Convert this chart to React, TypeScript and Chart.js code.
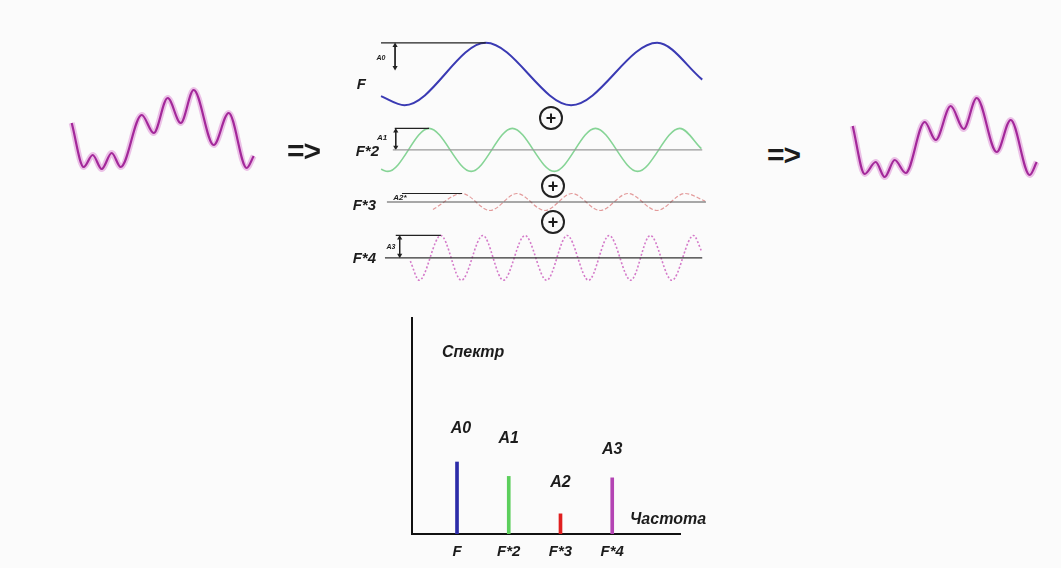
import { useEffect, useRef } from "react";
import { Chart, registerables } from "chart.js";

Chart.register(...registerables);

const FONT = '"Liberation Sans", Arial, Helvetica, sans-serif';

// ---------------- data ----------------
// Composite signal on the left: position along the trace and level above its lowest point
const inputWaveT = [0, 12, 21, 30, 40, 49, 70, 82, 96, 109, 122, 142, 157, 175, 182];
const inputWaveV = [47, 3, 15, 1, 17, 3, 55, 37, 72, 47, 80, 25, 57, 2, 14];
// Reconstructed signal on the right
const outputWaveT = [0, 12, 23, 32, 42, 53, 72, 83, 98, 111, 124, 144, 158, 177, 184];
const outputWaveV = [51, 3, 15, 0, 17, 4, 55, 37, 71, 48, 79, 25, 57, 2, 15];

// Harmonics: time in periods of the fundamental F, amplitude in units of A0
const harmonicNames = ["F", "F*2", "F*3", "F*4"];
const harmonicAmp = [1, 0.72, 0.25, 0.75];
const h1T = [0, 0.137, 0.611, 1.109, 1.611, 1.874];
const h1V = [-0.71, -1, 1, -1, 1, -0.18];
const h2T = [0, 0.04, 0.28, 0.526, 0.766, 1.011, 1.251, 1.497, 1.743, 1.869];
const h2V = [-0.65, -0.72, 0.72, -0.72, 0.72, -0.72, 0.72, -0.72, 0.72, 0.04];
const h3T = [0.314, 0.48, 0.64, 0.794, 0.954, 1.109, 1.269, 1.429, 1.594, 1.754, 1.869];
const h3V = [-0.22, 0.25, -0.25, 0.25, -0.25, 0.25, -0.25, 0.25, -0.25, 0.25, 0.03];
const h4T = [0.171, 0.223, 0.349, 0.469, 0.594, 0.714, 0.84, 0.966, 1.086, 1.211, 1.331, 1.457, 1.571, 1.697, 1.823, 1.869];
const h4V = [-0.11, -0.75, 0.75, -0.75, 0.75, -0.75, 0.75, -0.75, 0.75, -0.75, 0.75, -0.75, 0.75, -0.75, 0.75, 0.24];
const refLineStart = [0, 0.08, 0.137, 0.086];
const refLineEnd = [0.611, 0.28, 0.48, 0.349];
const baselineStart = [null, 0.069, 0.051, 0.023];
const baselineEnd = 1.874;
const arrowT = [0.082, 0.086, null, 0.109];
const arrowBottom = [0.12, 0, null, 0];
const ampLabels = ["A0", "A1", "A2*", "A3"];

// Spectrum
const spectrumLabels = ["F", "F*2", "F*3", "F*4"];
const spectrumFreq = [1, 2, 3, 4];
const spectrumAmp = [1.0, 0.8, 0.28, 0.78];
const peakNames = ["A0", "A1", "A2", "A3"];
const peakNameLevel = [1.47, 1.33, 0.72, 1.17];
const spectrumColors = ["#2c2ca8", "#5ccf5c", "#e01f1f", "#b444b4"];

// ---------------- layout (pixels) ----------------
const PANEL_LEFT = 330;
const PANEL_WIDTH = 390;
const T0_PX = 378;
const PX_PER_PERIOD = 175;
const PX_PER_AMP = 34;
const ARROW_HEAD = 3 / PX_PER_AMP;
const waveRows = [
  { top: 26, height: 96, baseline: 74 },
  { top: 116, height: 66, baseline: 150 },
  { top: 184, height: 32, baseline: 202 },
  { top: 224, height: 66, baseline: 258 },
];
const waveStyles = [
  { color: "#3a3ab3", width: 2, dash: [] as number[] },
  { color: "#86d496", width: 1.6, dash: [] as number[] },
  { color: "#e39a9a", width: 1.2, dash: [4, 2] },
  { color: "#d47ac9", width: 1.6, dash: [2, 2] },
];
const baselineColors = ["#333", "#9a9a9a", "#555", "#333"];
const labelSpots = [
  { right: 366, cy: 83 },
  { right: 379, cy: 150 },
  { right: 376, cy: 204 },
  { right: 376, cy: 257 },
];
const ampLabelSpots = [
  { cx: 381, cy: 57, size: 7 },
  { cx: 382, cy: 138, size: 8 },
  { cx: 400, cy: 198, size: 8 },
  { cx: 391, cy: 246, size: 7 },
];
const plusSpots = [
  { cx: 551, cy: 118 },
  { cx: 553, cy: 186 },
  { cx: 553, cy: 222 },
];

const baseOptions = (xMin: number, xMax: number, yMin: number, yMax: number): any => ({
  animation: false,
  responsive: false,
  maintainAspectRatio: false,
  layout: { padding: 0 },
  events: [],
  plugins: { legend: { display: false }, tooltip: { enabled: false } },
  elements: { point: { radius: 0 } },
  scales: {
    x: { type: "linear", display: false, min: xMin, max: xMax },
    y: { type: "linear", display: false, min: yMin, max: yMax },
  },
});

function harmonicConfig(i: number) {
  const ts = [h1T, h2T, h3T, h4T][i];
  const vs = [h1V, h2V, h3V, h4V][i];
  const row = waveRows[i];
  const st = waveStyles[i];
  const amp = harmonicAmp[i];
  const datasets: any[] = [];
  // reference line at the amplitude level
  datasets.push({
    data: [
      { x: refLineStart[i], y: amp },
      { x: refLineEnd[i], y: amp },
    ],
    borderColor: "#222",
    borderWidth: 1.2,
    pointRadius: 0,
  });
  const bs = baselineStart[i];
  if (bs !== null) {
    datasets.push({
      data: [
        { x: bs, y: 0 },
        { x: baselineEnd, y: 0 },
      ],
      borderColor: baselineColors[i],
      borderWidth: 1.2,
      pointRadius: 0,
    });
  }
  const at = arrowT[i];
  if (at !== null) {
    datasets.push({
      data: [
        { x: at, y: amp - ARROW_HEAD },
        { x: at, y: (arrowBottom[i] as number) + ARROW_HEAD },
      ],
      borderColor: "#222",
      borderWidth: 1,
      pointStyle: "triangle",
      pointRadius: 3,
      pointRotation: [0, 180],
      pointBackgroundColor: "#222",
      pointBorderColor: "#222",
      pointBorderWidth: 0,
    });
  }
  datasets.push({
    data: ts.map((t, k) => ({ x: t, y: vs[k] })),
    borderColor: st.color,
    borderWidth: st.width,
    borderDash: st.dash,
    cubicInterpolationMode: "monotone",
    pointRadius: 0,
  });
  const xMin = (PANEL_LEFT - T0_PX) / PX_PER_PERIOD;
  const xMax = (PANEL_LEFT + PANEL_WIDTH - T0_PX) / PX_PER_PERIOD;
  const yMin = -(row.top + row.height - row.baseline) / PX_PER_AMP;
  const yMax = (row.baseline - row.top) / PX_PER_AMP;
  return { type: "line", data: { datasets }, options: baseOptions(xMin, xMax, yMin, yMax) };
}

function compositeConfig(ts: number[], vs: number[], xMin: number, xMax: number, yMin: number, yMax: number) {
  const pts = ts.map((t, k) => ({ x: t, y: vs[k] }));
  return {
    type: "line",
    data: {
      datasets: [
        {
          data: pts,
          borderColor: "#a3289a",
          borderWidth: 2.2,
          cubicInterpolationMode: "monotone",
          pointRadius: 0,
        },
        {
          data: pts,
          borderColor: "rgba(214,120,205,0.45)",
          borderWidth: 6,
          cubicInterpolationMode: "monotone",
          pointRadius: 0,
        },
      ],
    },
    options: baseOptions(xMin, xMax, yMin, yMax),
  };
}

const peakLabelPlugin = {
  id: "peakLabels",
  afterDatasetsDraw(chart: any) {
    const { ctx } = chart;
    const meta = chart.getDatasetMeta(0);
    const y = chart.scales.y;
    ctx.save();
    ctx.font = `italic bold 16px ${FONT}`;
    ctx.fillStyle = "#1c1c1c";
    ctx.textAlign = "center";
    ctx.textBaseline = "middle";
    meta.data.forEach((el: any, i: number) => {
      ctx.fillText(peakNames[i], el.x + (i === 0 ? 4 : 0), y.getPixelForValue(peakNameLevel[i]));
    });
    ctx.restore();
  },
};

function spectrumConfig() {
  return {
    type: "bar",
    data: {
      datasets: [
        {
          data: spectrumFreq.map((f, i) => ({ x: f, y: spectrumAmp[i] })),
          backgroundColor: spectrumColors,
          barThickness: 3,
        },
      ],
    },
    options: {
      animation: false,
      responsive: false,
      maintainAspectRatio: false,
      events: [],
      layout: { padding: { left: 12, top: 18, right: 20, bottom: 0 } },
      plugins: { legend: { display: false }, tooltip: { enabled: false } },
      scales: {
        x: {
          type: "linear",
          min: 0.13,
          max: 5.31,
          offset: false,
          grid: { display: false, drawTicks: false },
          border: { display: true, color: "#111", width: 2 },
          afterBuildTicks: (s: any) => {
            s.ticks = spectrumFreq.map((v) => ({ value: v }));
          },
          afterFit: (s: any) => {
            s.height = 34;
          },
          ticks: {
            padding: 9,
            color: "#1c1c1c",
            font: { family: FONT, size: 15, weight: "bold", style: "italic" },
            callback: (v: number) => spectrumLabels[spectrumFreq.indexOf(v)] ?? "",
            maxRotation: 0,
            autoSkip: false,
          },
        },
        y: {
          type: "linear",
          min: 0,
          max: 3,
          grid: { display: false, drawTicks: false },
          border: { display: true, color: "#111", width: 2 },
          ticks: { display: false },
          afterFit: (s: any) => {
            s.width = 0;
          },
        },
      },
    },
    plugins: [peakLabelPlugin],
  };
}

function ChartCanvas(props: { left: number; top: number; width: number; height: number; make: () => any }) {
  const ref = useRef<HTMLCanvasElement>(null);
  useEffect(() => {
    const chart = new Chart(ref.current as HTMLCanvasElement, props.make());
    return () => chart.destroy();
  }, []);
  return (
    <canvas
      ref={ref}
      width={props.width}
      height={props.height}
      style={{ position: "absolute", left: props.left, top: props.top, width: props.width, height: props.height }}
    />
  );
}

function Txt(props: { x: number; y: number; size: number; align?: "left" | "right" | "center"; italic?: boolean; children: any; spacing?: number }) {
  const align = props.align ?? "left";
  const tx = align === "left" ? "0" : align === "right" ? "-100%" : "-50%";
  return (
    <div
      style={{
        position: "absolute",
        left: props.x,
        top: props.y,
        transform: `translate(${tx}, -50%)`,
        font: `${props.italic === false ? "normal" : "italic"} bold ${props.size}px ${FONT}`,
        lineHeight: 1,
        color: "#1c1c1c",
        whiteSpace: "nowrap",
        letterSpacing: props.spacing ?? 0,
      }}
    >
      {props.children}
    </div>
  );
}

export default function App() {
  return (
    <div
      style={{
        position: "absolute",
        left: 0,
        top: 0,
        width: 1061,
        height: 568,
        background: "#fbfbfb",
        overflow: "hidden",
      }}
    >
      {/* composite signal, left */}
      <ChartCanvas
        left={60}
        top={80}
        width={210}
        height={100}
        make={() => compositeConfig(inputWaveT, inputWaveV, 60 - 71.7, 270 - 71.7, 170 - 180, 170 - 80)}
      />
      {/* reconstructed signal, right */}
      <ChartCanvas
        left={840}
        top={85}
        width={210}
        height={100}
        make={() => compositeConfig(outputWaveT, outputWaveV, 840 - 852.7, 1050 - 852.7, 177 - 185, 177 - 85)}
      />
      {/* harmonics */}
      {waveRows.map((row, i) => (
        <ChartCanvas key={i} left={PANEL_LEFT} top={row.top} width={PANEL_WIDTH} height={row.height} make={() => harmonicConfig(i)} />
      ))}
      {/* spectrum */}
      <ChartCanvas left={400} top={300} width={300} height={268} make={spectrumConfig} />

      {harmonicNames.map((n, i) => (
        <Txt key={n} x={labelSpots[i].right} y={labelSpots[i].cy} size={15} align="right">
          {n}
        </Txt>
      ))}
      {ampLabels.map((n, i) => (
        <Txt key={n} x={ampLabelSpots[i].cx} y={ampLabelSpots[i].cy} size={ampLabelSpots[i].size} align="center">
          {n}
        </Txt>
      ))}
      {plusSpots.map((p, i) => (
        <div
          key={i}
          style={{
            position: "absolute",
            left: p.cx - 12,
            top: p.cy - 12,
            width: 24,
            height: 24,
            boxSizing: "border-box",
            border: "2px solid #222",
            borderRadius: "50%",
            display: "flex",
            alignItems: "center",
            justifyContent: "center",
            font: `bold 18px ${FONT}`,
            color: "#1c1c1c",
            lineHeight: 1,
          }}
        >
          <span style={{ marginTop: -1 }}>+</span>
        </div>
      ))}
      <Txt x={287} y={151} size={30} italic={false} spacing={-1}>
        {"=>"}
      </Txt>
      <Txt x={767} y={155} size={30} italic={false} spacing={-1}>
        {"=>"}
      </Txt>
      <Txt x={442} y={352} size={16}>
        Спектр
      </Txt>
      <Txt x={630} y={519} size={16}>
        Частота
      </Txt>
    </div>
  );
}
